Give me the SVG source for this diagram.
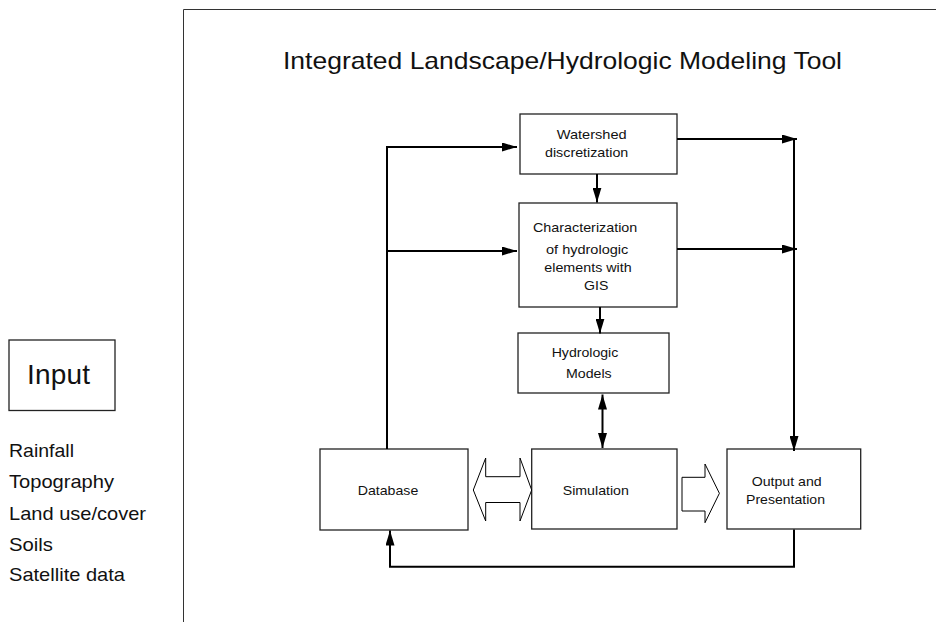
<svg xmlns="http://www.w3.org/2000/svg" width="936" height="622" viewBox="0 0 936 622">
<defs>
<style>
.box{fill:#fff;stroke:#222;stroke-width:1.3}
.t{font-family:"Liberation Sans",Arial,sans-serif;fill:#111}
.n{font-size:13.5px}
.l{font-size:19px}
.c{fill:none;stroke:#000;stroke-width:2}
.h{fill:#fff;stroke:#000;stroke-width:1}
</style>
<marker id="ah" markerUnits="userSpaceOnUse" markerWidth="15" markerHeight="9" refX="15" refY="4.5" orient="auto-start-reverse">
<path d="M0,0 L15,4.5 L0,9 z" fill="#000"/>
</marker>
</defs>
<rect width="936" height="622" fill="#fff"/>
<path d="M183.5,622 V9.5 H936" fill="none" stroke="#333" stroke-width="1"/>
<text class="t" x="283" y="69" font-size="24" textLength="559" lengthAdjust="spacingAndGlyphs">Integrated Landscape/Hydrologic Modeling Tool</text>

<g id="input">
<rect class="box" x="9" y="340" width="106" height="70.5"/>
<text class="t" x="27" y="384" font-size="28" textLength="63">Input</text>
</g>
<g id="input-list">
<text class="t l" x="9" y="457" textLength="65" lengthAdjust="spacingAndGlyphs">Rainfall</text>
<text class="t l" x="9" y="487.5" textLength="105" lengthAdjust="spacingAndGlyphs">Topography</text>
<text class="t l" x="9" y="519.5" textLength="137" lengthAdjust="spacingAndGlyphs">Land use/cover</text>
<text class="t l" x="9" y="550.5" textLength="44" lengthAdjust="spacingAndGlyphs">Soils</text>
<text class="t l" x="9" y="581" textLength="116" lengthAdjust="spacingAndGlyphs">Satellite data</text>
</g>

<g id="watershed">
<rect class="box" x="520" y="114" width="157" height="60"/>
<text class="t n" x="556.7" y="139.3" textLength="70" lengthAdjust="spacingAndGlyphs">Watershed</text>
<text class="t n" x="545" y="157.3" textLength="83.3" lengthAdjust="spacingAndGlyphs">discretization</text>
</g>
<g id="characterization">
<rect class="box" x="519" y="203" width="158" height="104"/>
<text class="t n" x="533" y="231.7" textLength="104.3" lengthAdjust="spacingAndGlyphs">Characterization</text>
<text class="t n" x="546" y="254" textLength="82.3" lengthAdjust="spacingAndGlyphs">of hydrologic</text>
<text class="t n" x="544.3" y="271.7" textLength="87.4" lengthAdjust="spacingAndGlyphs">elements with</text>
<text class="t n" x="584" y="290" textLength="24.3" lengthAdjust="spacingAndGlyphs">GIS</text>
</g>
<g id="hydrologic-models">
<rect class="box" x="518" y="333" width="151" height="60"/>
<text class="t n" x="551.7" y="356.7" textLength="66.6" lengthAdjust="spacingAndGlyphs">Hydrologic</text>
<text class="t n" x="566" y="378.3" textLength="45.7" lengthAdjust="spacingAndGlyphs">Models</text>
</g>
<g id="database">
<rect class="box" x="320" y="449" width="148" height="81"/>
<text class="t n" x="357.7" y="495" textLength="60.6" lengthAdjust="spacingAndGlyphs">Database</text>
</g>
<g id="simulation">
<rect class="box" x="531.7" y="449" width="145.3" height="80"/>
<text class="t n" x="562.7" y="495" textLength="66.2" lengthAdjust="spacingAndGlyphs">Simulation</text>
</g>
<g id="output">
<rect class="box" x="727" y="449" width="133.7" height="80"/>
<text class="t n" x="751.7" y="485.7" textLength="70" lengthAdjust="spacingAndGlyphs">Output and</text>
<text class="t n" x="746" y="504" textLength="79" lengthAdjust="spacingAndGlyphs">Presentation</text>
</g>

<g id="connectors">
<path class="c" d="M387,449 V147 H517" marker-end="url(#ah)"/>
<path class="c" d="M387,251 H517" marker-end="url(#ah)"/>
<path class="c" d="M597,174 V202.5" marker-end="url(#ah)"/>
<path class="c" d="M600,307 V333.5" marker-end="url(#ah)"/>
<path class="c" d="M602.5,394.5 V448" marker-start="url(#ah)" marker-end="url(#ah)"/>
<path class="c" d="M677,139 H797" marker-end="url(#ah)"/>
<path class="c" d="M677,249 H797" marker-end="url(#ah)"/>
<path class="c" d="M794,139 V451" marker-end="url(#ah)"/>
<path class="c" d="M794,529.5 V566.7 H390 V530.5" marker-end="url(#ah)"/>
<polygon class="h" points="473.3,490 485.7,458 485.7,476.7 520,476.7 520,458 531.7,490 520,521 520,502.5 485.7,502.5 485.7,521"/>
<polygon class="h" points="682,477.3 705,477.3 705,464 719.4,493.3 705,522.7 705,511 682,511"/>
</g>
</svg>
